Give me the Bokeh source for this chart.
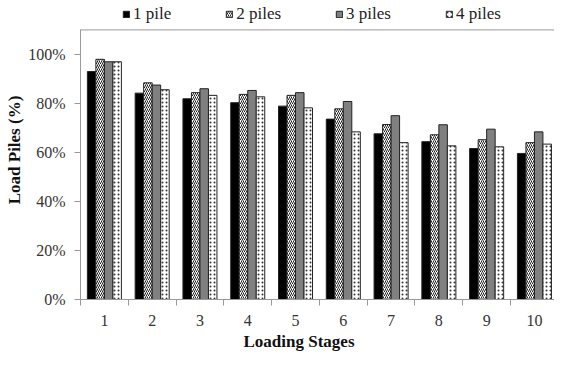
from bokeh.plotting import figure
from bokeh.models import (ColumnDataSource, FixedTicker, PrintfTickFormatter, Legend, LegendItem,
                          Span, Title)
from bokeh.transform import dodge
from bokeh.embed import file_html
from bokeh.resources import INLINE

stages = [1, 2, 3, 4, 5, 6, 7, 8, 9, 10]
stage_labels = ["1", "2", "3", "4", "5", "6", "7", "8", "9", "10"]
pile1 = [93.0, 84.2, 81.9, 80.3, 78.9, 73.6, 67.6, 64.4, 61.6, 59.6]
pile2 = [98.0, 88.4, 84.4, 83.7, 83.3, 77.8, 71.4, 67.2, 65.2, 64.0]
pile3 = [97.0, 87.5, 86.0, 85.3, 84.4, 80.8, 75.0, 71.3, 69.5, 68.4]
pile4 = [97.0, 85.6, 83.3, 82.7, 78.2, 68.4, 64.0, 62.7, 62.3, 63.4]
series_names = ["1 pile", "2 piles", "3 piles", "4 piles"]
y_ticks = [0, 20, 40, 60, 80, 100]

FONT = "Liberation Serif"

src = ColumnDataSource(dict(stage=stages, p1=pile1, p2=pile2, p3=pile3, p4=pile4))

p = figure(width=554, height=358, output_backend="svg", toolbar_location=None,
           x_range=(0.5, 10.42), y_range=(0, 122),
           min_border_left=80, min_border_right=0, min_border_top=0, min_border_bottom=59)
p.outline_line_color = None
p.grid.visible = False
p.background_fill_color = "white"

bw = 0.178
offs = [-0.267, -0.089, 0.089, 0.267]
styles = [
    dict(fill_color="black"),
    dict(fill_color="white", hatch_pattern="/", hatch_color="#222222", hatch_scale=4, hatch_weight=1),
    dict(fill_color="#808080"),
    dict(fill_color="white", hatch_pattern=".", hatch_color="#333333", hatch_scale=4, hatch_weight=1),
]
cols = ["p1", "p2", "p3", "p4"]
renderers = []
for c, o, st in zip(cols, offs, styles):
    r = p.vbar(x=dodge("stage", o), top=c, width=bw, source=src,
               line_color="#222222", line_width=1, **st)
    renderers.append(r)

# axes
p.xaxis.ticker = FixedTicker(ticks=stages, minor_ticks=[s - 0.5 for s in stages] + [10.5])
p.xaxis.major_label_overrides = {s: l for s, l in zip(stages, stage_labels)}
p.xaxis.major_tick_line_color = None
p.xaxis.minor_tick_in = 0
p.xaxis.minor_tick_out = 6
p.xaxis.minor_tick_line_color = "#999999"
p.xaxis.axis_line_color = "#999999"
p.xaxis.major_label_text_font = FONT
p.xaxis.major_label_text_font_size = "16px"
p.xaxis.major_label_text_color = "#333333"
p.xaxis.major_label_standoff = 9

p.yaxis.ticker = FixedTicker(ticks=y_ticks, minor_ticks=[])
p.yaxis.bounds = (0, 110)
p.yaxis.formatter = PrintfTickFormatter(format="%d%%")
p.yaxis.major_tick_in = 0
p.yaxis.major_tick_out = 6
p.yaxis.major_tick_line_color = "#999999"
p.yaxis.axis_line_color = "#999999"
p.yaxis.major_label_text_font = FONT
p.yaxis.major_label_text_font_size = "16px"
p.yaxis.major_label_text_color = "#333333"
p.yaxis.major_label_standoff = 9
p.yaxis.axis_label = "Load Piles (%)"
p.yaxis.axis_label_text_font = FONT
p.yaxis.axis_label_text_font_style = "bold"
p.yaxis.axis_label_text_font_size = "17px"
p.yaxis.axis_label_text_color = "#111111"
p.yaxis.axis_label_standoff = 1

p.add_layout(Span(location=110, dimension="width", line_color="#999999", line_width=1))

xt = Title(text="Loading Stages", text_font=FONT, text_font_style="bold",
           text_font_size="17px", text_color="#111111", align="left", offset=163,
           standoff=2)
p.add_layout(xt, "below")

items = [LegendItem(label=n, renderers=[r]) for n, r in zip(series_names, renderers)]
lg = Legend(items=items, location=(42, 275), orientation="horizontal", glyph_width=8, glyph_height=8,
            label_standoff=3, spacing=54, padding=0, margin=0, border_line_color=None,
            background_fill_alpha=0, label_text_font=FONT, label_text_font_size="17px",
            label_text_color="#222222")
p.add_layout(lg, "center")

open("out.html", "w").write(file_html(p, INLINE))
